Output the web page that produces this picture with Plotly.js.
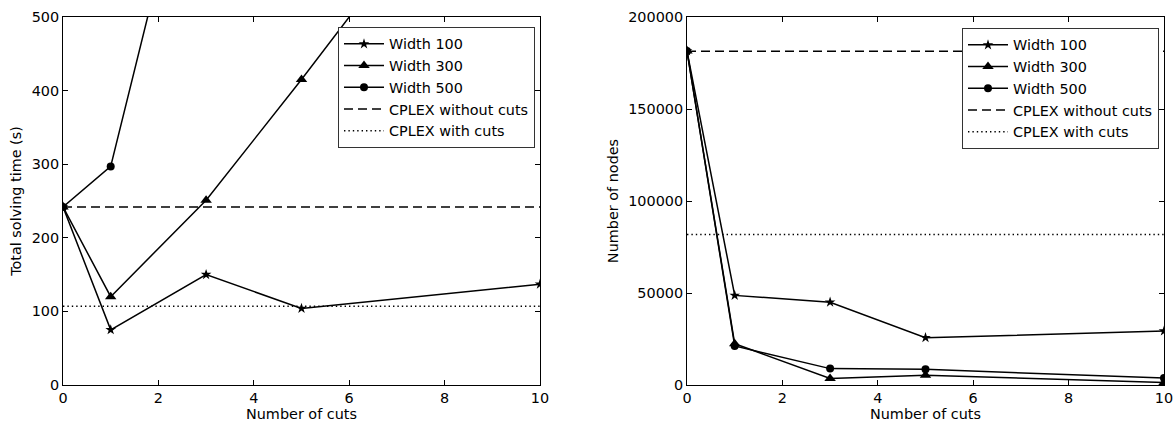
<!DOCTYPE html>
<html>
<head>
<meta charset="utf-8">
<script src="https://cdn.plot.ly/plotly-3.0.1.min.js"></script>
<style>html,body{margin:0;padding:0;background:#fff;}#chart{width:1175px;height:426px;}</style>
</head>
<body>
<div id="chart"></div>
<script>
// ---- data ----
const cuts = [0, 1, 3, 5, 10];
const timeWidth100 = [242, 75, 150, 104, 137];
const timeWidth300 = [242, 120, 251, 415, 840];
const timeWidth500 = [242, 297, 821, 1150, 1900];
const timeCplexNoCuts = 242;
const timeCplexCuts = 107;

const nodesWidth100 = [181500, 48700, 45000, 25700, 29300];
const nodesWidth300 = [181500, 22400, 3600, 5300, 1300];
const nodesWidth500 = [181500, 21200, 8900, 8500, 3800];
const nodesCplexNoCuts = 181400;
const nodesCplexCuts = 81800;

const seriesNames = ['Width 100', 'Width 300', 'Width 500', 'CPLEX without cuts', 'CPLEX with cuts'];
const xRange = [0, 10];

// ---- build ----
const FS = 14.4;
const FONT = 'DejaVu Sans';
const markerDefs = [
  {symbol: 'star', size: 8},
  {symbol: 'triangle-up', size: 10},
  {symbol: 'circle', size: 8}
];
const lineW = 1.5;

function seriesTraces(ys, xa, ya, leg, base) {
  const out = [];
  ys.forEach((y, i) => {
    out.push({
      x: cuts, y: y, xaxis: xa, yaxis: ya, legend: leg,
      name: seriesNames[i], legendgroup: base + i,
      mode: 'lines+markers',
      line: {color: 'black', width: lineW},
      marker: {color: 'black', symbol: markerDefs[i].symbol, size: markerDefs[i].size},
      cliponaxis: true
    });
  });
  return out;
}
function hline(val, xa, ya, leg, name, dash, grp) {
  return {
    x: xRange, y: [val, val], xaxis: xa, yaxis: ya, legend: leg,
    name: name, legendgroup: grp, mode: 'lines',
    line: {color: 'black', width: lineW, dash: dash}
  };
}
const DASH = '9px,5px';
const DOT = '1.4px,3px';

const traces = [
  ...seriesTraces([timeWidth100, timeWidth300, timeWidth500], 'x', 'y', 'legend', 'a'),
  hline(timeCplexNoCuts, 'x', 'y', 'legend', seriesNames[3], DASH, 'a3'),
  hline(timeCplexCuts, 'x', 'y', 'legend', seriesNames[4], DOT, 'a4'),
  ...seriesTraces([nodesWidth100, nodesWidth300, nodesWidth500], 'x2', 'y2', 'legend2', 'b'),
  hline(nodesCplexNoCuts, 'x2', 'y2', 'legend2', seriesNames[3], DASH, 'b3'),
  hline(nodesCplexCuts, 'x2', 'y2', 'legend2', seriesNames[4], DOT, 'b4')
];

const axisCommon = {
  showgrid: false, zeroline: false, showline: true, linecolor: 'black', linewidth: 1,
  mirror: 'ticks', ticks: 'inside', ticklen: 5, tickcolor: 'black', tickwidth: 1,
  tickfont: {family: FONT, size: FS, color: 'black'}
};
const yTop = 409 / 426, yBot = 41 / 426;

const legendCommon = {
  bgcolor: 'white', bordercolor: '#333', borderwidth: 1,
  font: {family: FONT, size: FS, color: 'black'},
  xanchor: 'right', yanchor: 'top', tracegroupgap: 4.5, itemwidth: 40,
  traceorder: 'normal'
};

const layout = {
  width: 1175, height: 426,
  margin: {l: 0, r: 0, t: 0, b: 0},
  paper_bgcolor: 'white', plot_bgcolor: 'white',
  font: {family: FONT, size: FS, color: 'black'},
  showlegend: true,
  xaxis: Object.assign({}, axisCommon, {
    domain: [63 / 1175, 540 / 1175], range: xRange, dtick: 2, anchor: 'y',
    title: {text: 'Number of cuts', font: {family: FONT, size: FS}, standoff: 2}
  }),
  yaxis: Object.assign({}, axisCommon, {
    domain: [yBot, yTop], range: [0, 500], dtick: 100, anchor: 'x',
    title: {text: 'Total solving time (s)', font: {family: FONT, size: FS}, standoff: 6}
  }),
  xaxis2: Object.assign({}, axisCommon, {
    domain: [687 / 1175, 1164 / 1175], range: xRange, dtick: 2, anchor: 'y2',
    title: {text: 'Number of cuts', font: {family: FONT, size: FS}, standoff: 2}
  }),
  yaxis2: Object.assign({}, axisCommon, {
    domain: [yBot, yTop], range: [0, 200000], dtick: 50000, anchor: 'x2', tickformat: 'd',
    title: {text: 'Number of nodes', font: {family: FONT, size: FS}, standoff: 6}
  }),
  legend: Object.assign({}, legendCommon, {x: 535 / 1175, y: 399 / 426}),
  legend2: Object.assign({}, legendCommon, {x: 1159 / 1175, y: 398 / 426})
};

Plotly.newPlot('chart', traces, layout, {displayModeBar: false, staticPlot: true});
</script>
</body>
</html>
